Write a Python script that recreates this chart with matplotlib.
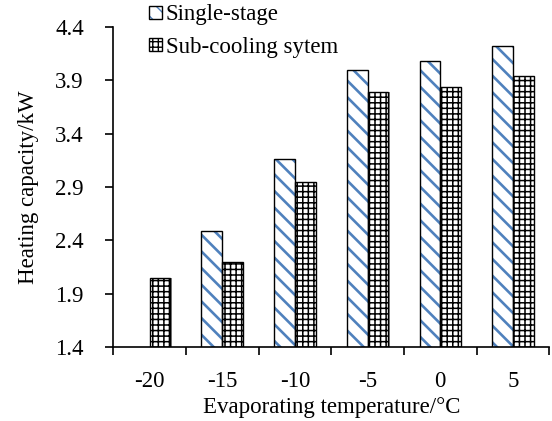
import numpy as np
import matplotlib.pyplot as plt
from matplotlib.patches import Rectangle

plt.rcParams['font.family'] = ['Liberation Serif', 'DejaVu Serif']
plt.rcParams['font.size'] = 16.5

temps = ['-20', '-15', '-10', '-5', '0', '5']
single_stage = [np.nan, 2.49, 3.16, 4.00, 4.08, 4.22]
sub_cooling = [2.05, 2.20, 2.95, 3.79, 3.84, 3.94]

fig = plt.figure(figsize=(5.52, 4.21), dpi=100)
ax = fig.add_axes([0.205, 0.176, 0.79, 0.76])

x = np.arange(len(temps))
w = 0.285
blue = '#4f81bd'

# blue stripes, black outline drawn on top
with plt.rc_context({'hatch.linewidth': 1.9}):
    b1 = ax.bar(x - w/2, single_stage, w, color='white', edgecolor=blue,
                hatch='\\\\', linewidth=0, zorder=2)
outlines = []
for r in b1:
    p = Rectangle(r.get_xy(), r.get_width(), r.get_height(), fill=False,
                  edgecolor='black', linewidth=1.0, zorder=3)
    ax.add_patch(p)
    outlines.append(p)

# faint grey shadow on the right of the grid bars
ax.bar(x + w/2 + 0.02, sub_cooling, w, color='#8c8c8c', linewidth=0, zorder=1.5)
with plt.rc_context({'hatch.linewidth': 1.1}):
    b2 = ax.bar(x + w/2, sub_cooling, w, color='white', edgecolor='black',
                hatch='+++', linewidth=1.0, zorder=2)

ax.set_ylim(1.4, 4.4)
yt = np.arange(1.4, 4.41, 0.5)
ax.set_yticks(yt)
ax.set_yticklabels([f'{v:.1f}' for v in yt])
ax.set_xlim(-0.5, 5.5)
ax.set_xticks(x)
ax.set_xticklabels(temps)
ax.set_xticks(np.arange(-0.5, 5.6, 1), minor=True)
ax.tick_params(axis='x', which='major', length=0, pad=17)
ax.tick_params(axis='x', which='minor', length=6, width=1.2, direction='out')
ax.tick_params(axis='y', length=6, width=1.2, direction='out', pad=15)
for s in ['top', 'right']:
    ax.spines[s].set_visible(False)
for s in ['left', 'bottom']:
    ax.spines[s].set_linewidth(1.2)

ax.set_xlabel('Evaporating temperature/\u00b0C', labelpad=4)
ax.set_ylabel('Heating capacity/kW', labelpad=12)

leg = ax.legend([(b1[1], outlines[1]), b2[0]], ['Single-stage', 'Sub-cooling sytem'],
                loc='upper left', bbox_to_anchor=(0.27, 0.99),
                bbox_transform=fig.transFigure, frameon=False,
                handlelength=0.58, handleheight=0.5, handletextpad=0.15,
                labelspacing=0.5, borderaxespad=0, borderpad=0)

fig.savefig('out.png', dpi=100)
